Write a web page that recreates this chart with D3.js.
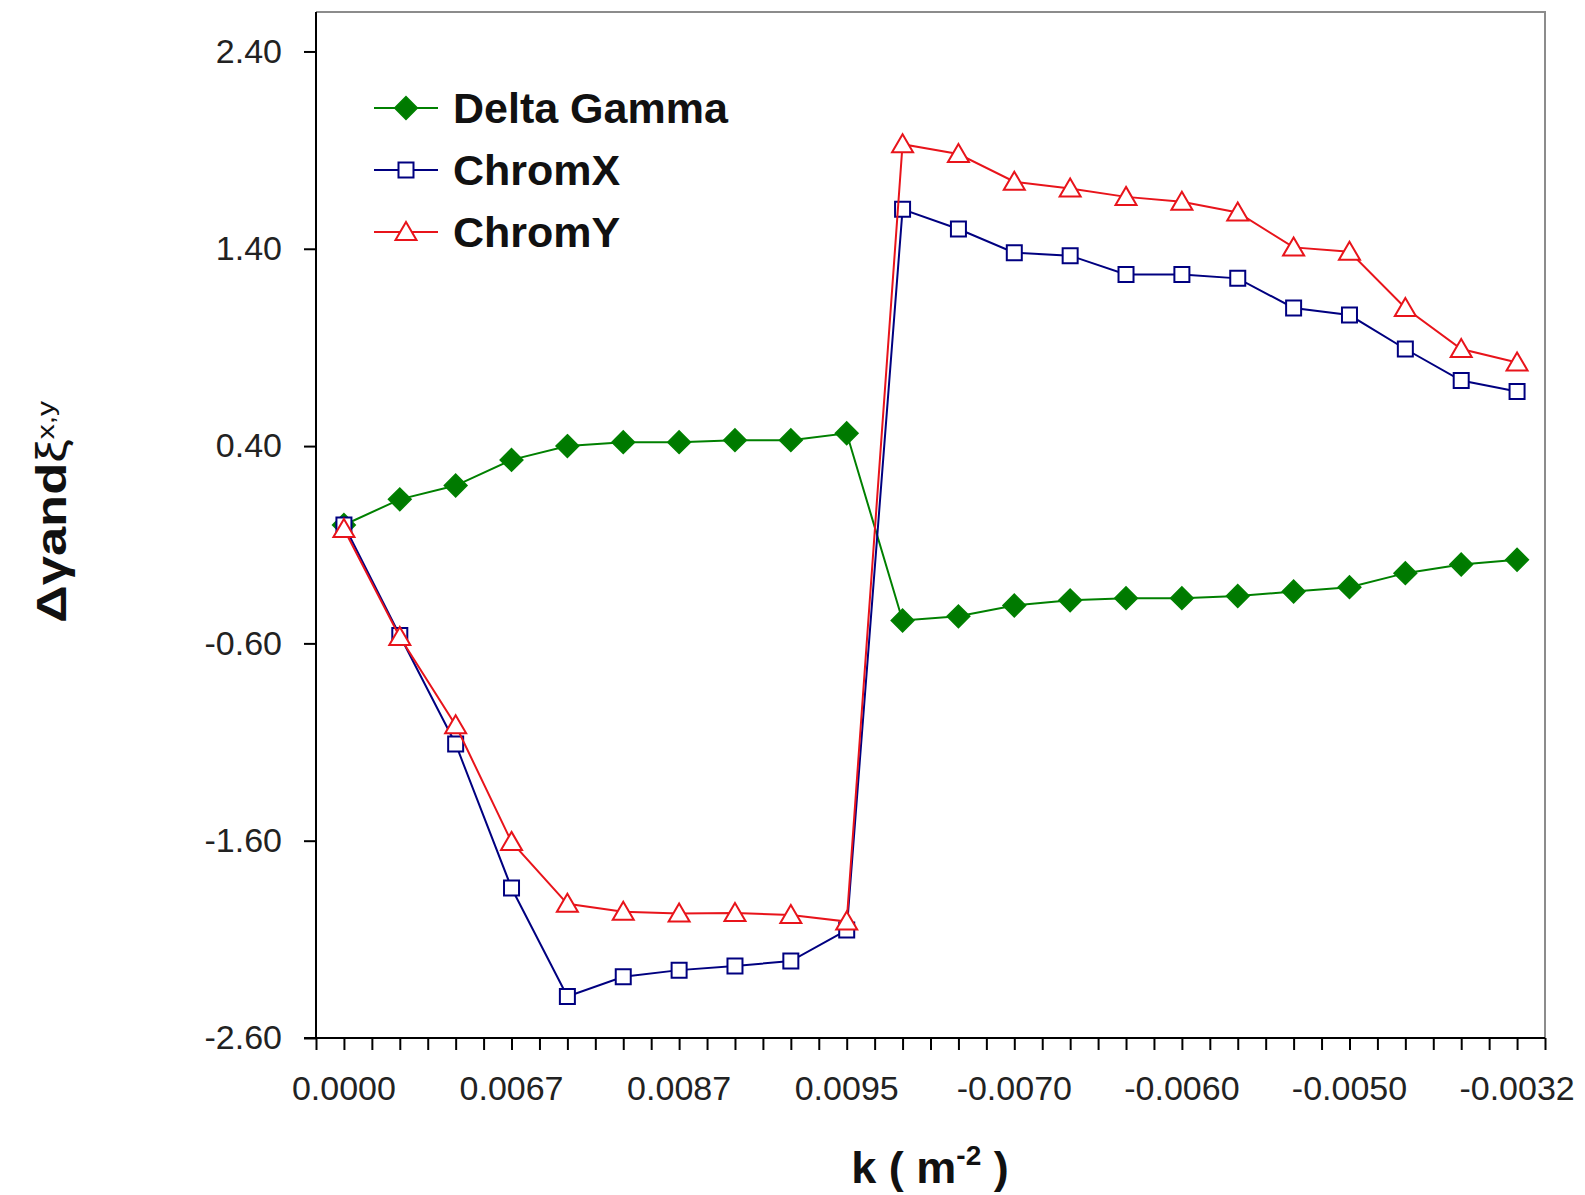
<!DOCTYPE html>
<html>
<head>
<meta charset="utf-8">
<script src="https://cdn.jsdelivr.net/npm/d3@7"></script>
<style>
  body { margin: 0; background: #fff; }
  text { font-family: "Liberation Sans", Arial, sans-serif; }
</style>
</head>
<body>
<div id="chart"></div>
<script>
var width = 1585;
var height = 1195;

// values, one per category
var deltaGamma = [0.00, 0.13, 0.20, 0.33, 0.40, 0.42, 0.42, 0.43, 0.43, 0.465,
    -0.484, -0.463, -0.408, -0.382, -0.371, -0.371, -0.36, -0.337, -0.315, -0.244, -0.20, -0.176];
var chromX = [0.00, -0.56, -1.11, -1.84, -2.39, -2.29, -2.256, -2.235, -2.21, -2.053,
    1.60, 1.50, 1.38, 1.365, 1.27, 1.27, 1.25, 1.10, 1.064, 0.892, 0.732, 0.677];
var chromY = [-0.02, -0.568, -1.015, -1.606, -1.92, -1.96, -1.969, -1.966, -1.977, -2.01,
    1.93, 1.88, 1.74, 1.705, 1.663, 1.638, 1.584, 1.407, 1.385, 1.10, 0.892, 0.824];

// only every third category carries a label
var tickLabels = ["0.0000", "0.0067", "0.0087", "0.0095", "-0.0070", "-0.0060", "-0.0050", "-0.0032"];
var yTicks = [-2.6, -1.6, -0.6, 0.4, 1.4, 2.4];
var seriesNames = ["Delta Gamma", "ChromX", "ChromY"];

var plotL = 316, plotR = 1545, plotT = 12, plotB = 1038;

var svg = d3.select("#chart")
    .append("svg")
    .attr("width", width)
    .attr("height", height);

var x = d3.scaleBand()
    .domain(d3.range(deltaGamma.length))
    .range([plotL, plotR]);

var xTick = d3.scaleLinear()
    .domain([0, deltaGamma.length])
    .range([plotL, plotR]);

var y = d3.scaleLinear()
    .domain([-2.6, 2.6])
    .range([plotB, plotT]);

function cx(i) { return x(i) + x.bandwidth() / 2; }

// frame: grey top and right
svg.append("path")
    .attr("d", "M" + plotL + "," + plotT + "H" + plotR + "V" + plotB)
    .attr("fill", "none")
    .attr("stroke", "#8c8c8c")
    .attr("stroke-width", 2);

// y axis
var yAxis = svg.append("g")
    .attr("transform", "translate(" + plotL + ",0)")
    .call(d3.axisLeft(y).tickValues(yTicks).tickSize(12).tickPadding(22)
        .tickFormat(function (d) { return d.toFixed(2); }));
yAxis.select(".domain").attr("stroke", "#000").attr("stroke-width", 2)
    .attr("d", "M0," + plotT + "V" + plotB);
yAxis.selectAll(".tick line").attr("stroke", "#000").attr("stroke-width", 2);
yAxis.selectAll(".tick text")
    .attr("font-size", 34)
    .attr("fill", "#222")
    .style("font-family", "Liberation Sans, Arial, sans-serif");

// x axis: tick marks at every half category
var xAxis = svg.append("g")
    .attr("transform", "translate(0," + plotB + ")")
    .call(d3.axisBottom(xTick).tickValues(d3.range(0, deltaGamma.length + 0.01, 0.5))
        .tickSize(12).tickFormat(""));
xAxis.select(".domain").attr("stroke", "#000").attr("stroke-width", 2)
    .attr("d", "M" + (plotL - 12) + ",0H" + plotR);
xAxis.selectAll(".tick line").attr("stroke", "#000").attr("stroke-width", 2);

// x labels on every third category
var labelIdx = d3.range(0, deltaGamma.length, 3);
var xLab = svg.append("g")
    .attr("transform", "translate(0," + plotB + ")")
    .call(d3.axisBottom(x).tickValues(labelIdx).tickSize(0).tickPadding(38)
        .tickFormat(function (d, i) { return tickLabels[i]; }));
xLab.select(".domain").remove();
xLab.selectAll(".tick text")
    .attr("font-size", 34)
    .attr("fill", "#222")
    .style("font-family", "Liberation Sans, Arial, sans-serif");

// marker shapes
var diamond = "M0,-11L11,0L0,11L-11,0Z";
var square = "M-7.5,-7.5H7.5V7.5H-7.5Z";
var triangle = "M0,-10L10.5,8L-10.5,8Z";

var series = [
    { name: seriesNames[0], values: deltaGamma, color: "#008000", shape: diamond, fill: "#007a00" },
    { name: seriesNames[1], values: chromX, color: "#000080", shape: square, fill: "#fff" },
    { name: seriesNames[2], values: chromY, color: "#e8141b", shape: triangle, fill: "#fff" }
];

var line = d3.line()
    .x(function (d, i) { return cx(i); })
    .y(function (d) { return y(d); });

series.forEach(function (s) {
    var g = svg.append("g");
    g.append("path")
        .attr("d", line(s.values))
        .attr("fill", "none")
        .attr("stroke", s.color)
        .attr("stroke-width", 2);
    g.selectAll("path.m")
        .data(s.values)
        .enter()
        .append("path")
        .attr("class", "m")
        .attr("d", s.shape)
        .attr("transform", function (d, i) { return "translate(" + cx(i) + "," + y(d) + ")"; })
        .attr("fill", s.fill)
        .attr("stroke", s.color)
        .attr("stroke-width", 2);
});

// legend
var legend = svg.append("g");
series.forEach(function (s, i) {
    var ly = 108 + i * 62;
    legend.append("line")
        .attr("x1", 374).attr("x2", 438)
        .attr("y1", ly).attr("y2", ly)
        .attr("stroke", s.color)
        .attr("stroke-width", 2);
    legend.append("path")
        .attr("d", s.shape)
        .attr("transform", "translate(406," + ly + ")")
        .attr("fill", s.fill)
        .attr("stroke", s.color)
        .attr("stroke-width", 2);
    legend.append("text")
        .attr("x", 453)
        .attr("y", ly + 15)
        .attr("font-size", 43)
        .attr("font-weight", "bold")
        .attr("fill", "#111")
        .text(s.name);
});

// axis titles
var xt = svg.append("text")
    .attr("x", 930)
    .attr("y", 1183)
    .attr("text-anchor", "middle")
    .attr("font-size", 45)
    .attr("font-weight", "bold")
    .attr("fill", "#111");
xt.append("tspan").text("k ( m");
xt.append("tspan").attr("font-size", 28).attr("dy", -18).text("-2");
xt.append("tspan").attr("dy", 18).text(" )");

var yt = svg.append("text")
    .attr("transform", "translate(66,512) rotate(-90) scale(1.25,1)")
    .attr("text-anchor", "middle")
    .attr("font-size", 42)
    .attr("font-weight", "bold")
    .attr("fill", "#111");
yt.append("tspan").text("Δγand");
yt.append("tspan").attr("font-weight", "normal").text("ξ");
yt.append("tspan").attr("font-weight", "normal").attr("font-size", 24).attr("dy", -12).text("x,y");
</script>
</body>
</html>
